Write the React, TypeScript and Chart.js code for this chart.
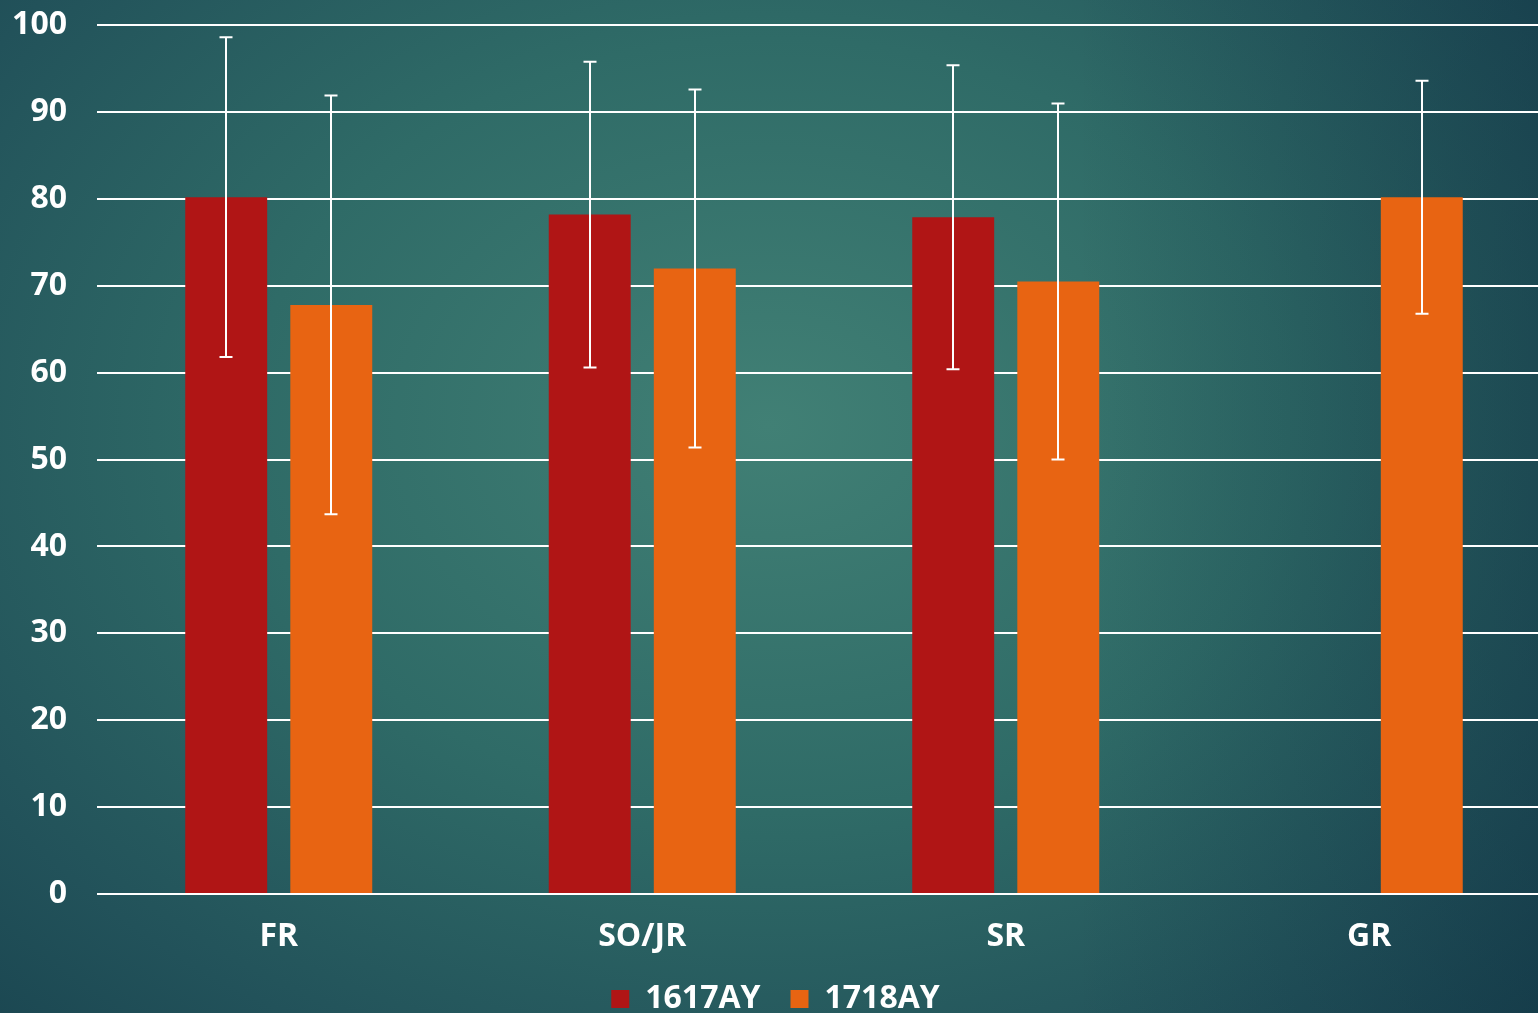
import React, { useEffect, useRef } from "react";
import { Chart, registerables } from "chart.js";

Chart.register(...registerables);

const categories = ["FR", "SO/JR", "SR", "GR"];
const series1Label = "1617AY";
const series2Label = "1718AY";
const series1Values: (number | null)[] = [80.2, 78.2, 77.9, null];
const series2Values: (number | null)[] = [67.8, 72.0, 70.5, 80.2];
const series1Errors: (number | null)[] = [18.4, 17.6, 17.5, null];
const series2Errors: (number | null)[] = [24.1, 20.6, 20.5, 13.4];
const yTicks = [0, 10, 20, 30, 40, 50, 60, 70, 80, 90, 100];

const errorsByDataset = [series1Errors, series2Errors];

const errorBarPlugin = {
  id: "errorBars",
  afterDatasetsDraw(chart: any) {
    const ctx = chart.ctx;
    const yScale = chart.scales.y;
    ctx.save();
    ctx.strokeStyle = "#ffffff";
    ctx.lineWidth = 2;
    chart.data.datasets.forEach((ds: any, di: number) => {
      const meta = chart.getDatasetMeta(di);
      meta.data.forEach((bar: any, i: number) => {
        const v = ds.data[i];
        const e = errorsByDataset[di][i];
        if (v == null || e == null) return;
        const x = Math.round(bar.x);
        const yTop = yScale.getPixelForValue(v + e);
        const yBot = yScale.getPixelForValue(v - e);
        const cap = 6.5;
        ctx.beginPath();
        ctx.moveTo(x, yTop);
        ctx.lineTo(x, yBot);
        ctx.moveTo(x - cap, yTop);
        ctx.lineTo(x + cap, yTop);
        ctx.moveTo(x - cap, yBot);
        ctx.lineTo(x + cap, yBot);
        ctx.stroke();
      });
    });
    ctx.restore();
  },
};

export default function App() {
  const ref = useRef<HTMLCanvasElement | null>(null);
  useEffect(() => {
    if (!ref.current) return;
    const family = "'Open Sans', sans-serif";
    const chart = new Chart(ref.current, {
      type: "bar",
      data: {
        labels: categories,
        datasets: [
          {
            label: series1Label,
            data: series1Values,
            backgroundColor: "#B01515",
            categoryPercentage: 0.578,
            barPercentage: 0.78,
          },
          {
            label: series2Label,
            data: series2Values,
            backgroundColor: "#E86412",
            categoryPercentage: 0.578,
            barPercentage: 0.78,
          },
        ],
      },
      options: {
        animation: false,
        responsive: false,
        maintainAspectRatio: false,
        layout: { padding: { top: 0, left: 0, right: 0, bottom: 0 } },
        plugins: {
          legend: {
            position: "bottom",
            labels: {
              color: "#ffffff",
              font: { family, weight: "bold", size: 32 },
              boxWidth: 18,
              boxHeight: 18,
              padding: 30,
            },
          },
          tooltip: { enabled: false },
        },
        scales: {
          x: {
            grid: { display: false, drawTicks: false },
            border: { display: false },
            ticks: { color: "#ffffff", font: { family, weight: "bold", size: 32 }, padding: 24 },
            afterFit: (axis: any) => {
              axis.height = 59;
            },
          },
          y: {
            min: 0,
            max: 100,
            afterBuildTicks: (axis: any) => {
              axis.ticks = yTicks.map((v) => ({ value: v }));
            },
            afterFit: (axis: any) => {
              axis.width = 97;
            },
            grid: { color: "#ffffff", lineWidth: 2, drawTicks: false },
            border: { display: false },
            ticks: { color: "#ffffff", font: { family, weight: "bold", size: 32 }, padding: 30 },
          },
        },
      },
      plugins: [errorBarPlugin],
    });
    return () => chart.destroy();
  }, []);

  return (
    <div
      style={{
        position: "fixed",
        left: 0,
        top: 0,
        width: 1538,
        height: 1013,
        overflow: "hidden",
        background:
          "radial-gradient(ellipse 75% 85% at 50% 42%, #418075 0%, #2F6B67 45%, #22525A 80%, #1A4550 100%)",
      }}
    >
      <div
        style={{
          position: "absolute",
          inset: 0,
          background: "linear-gradient(90deg, rgba(0,0,0,0) 70%, rgba(10,40,60,0.35) 100%)",
        }}
      />
      <canvas
        ref={ref}
        width={1551}
        height={1049}
        style={{ position: "absolute", left: 0, top: -24, width: 1551, height: 1049 }}
      />
    </div>
  );
}
